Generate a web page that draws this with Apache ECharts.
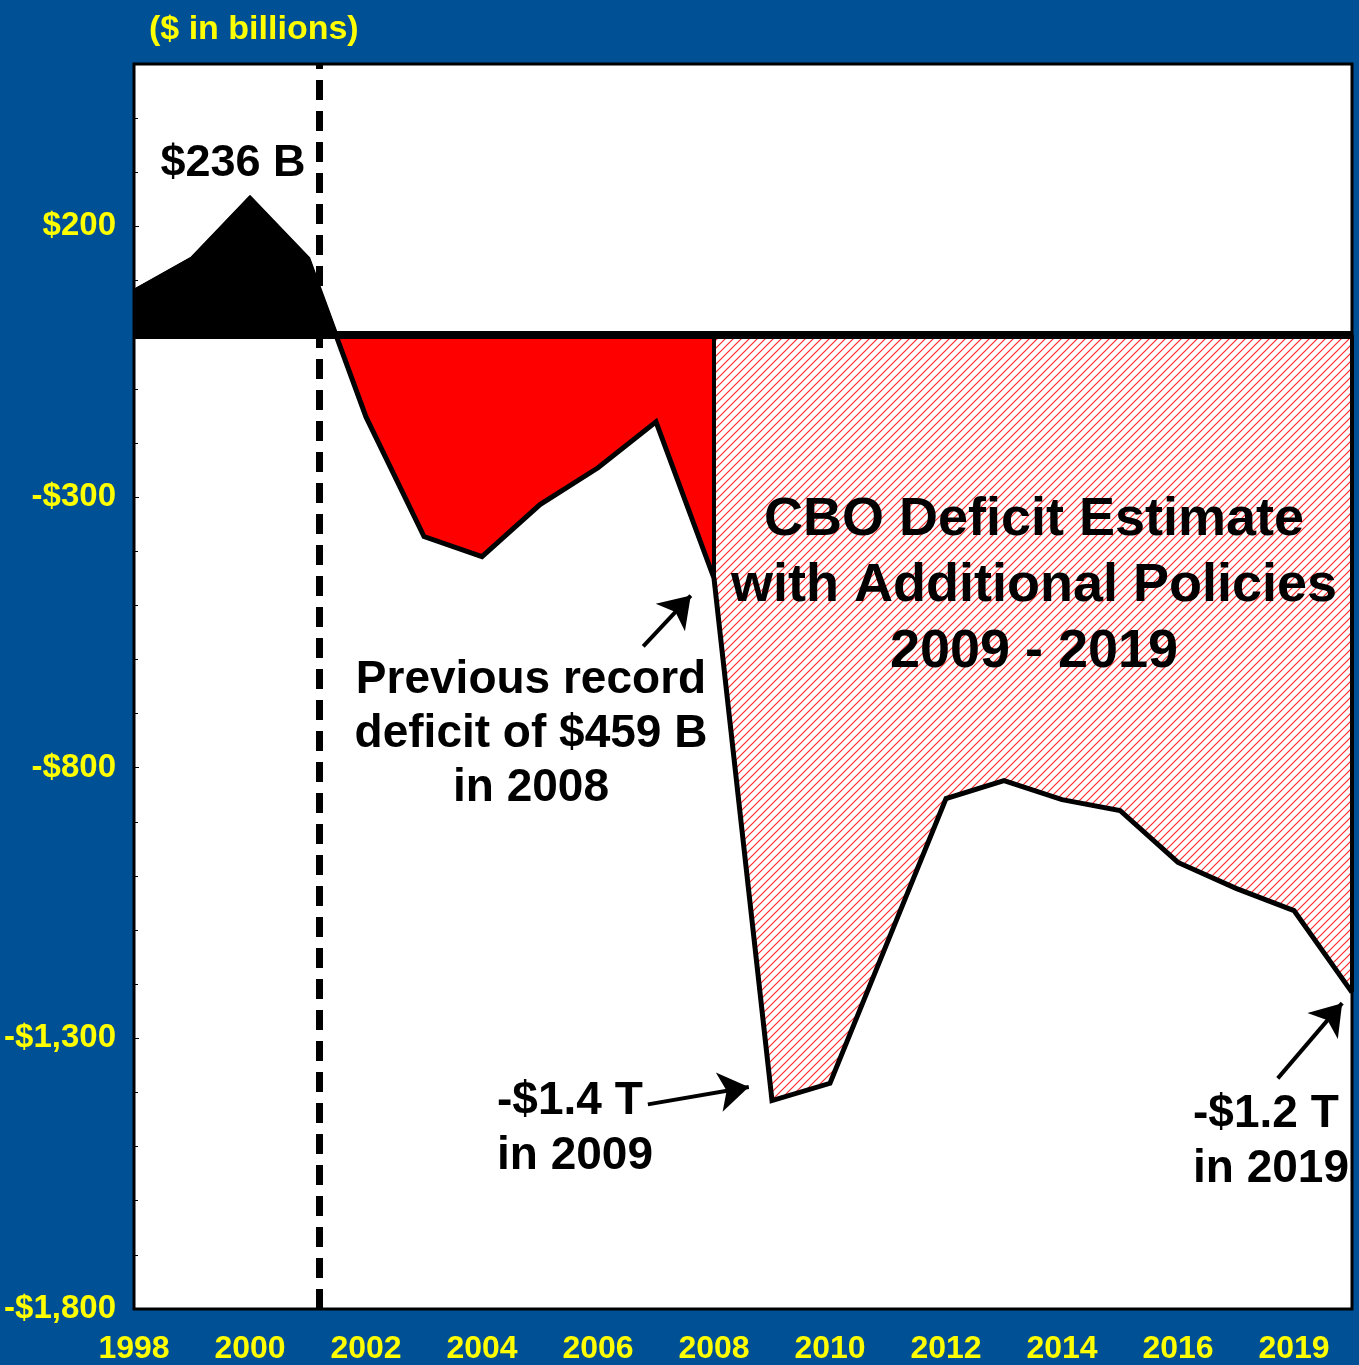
<!DOCTYPE html>
<html>
<head>
<meta charset="utf-8">
<script src="https://cdn.jsdelivr.net/npm/echarts@6/dist/echarts.min.js"></script>
<style>
  html, body { margin: 0; padding: 0; background: #005096; }
  #chart { width: 1359px; height: 1365px; }
</style>
</head>
<body>
<div id="chart"></div>
<script>
(function () {
    'use strict';

    // years on the x axis
    var years = [1998, 1999, 2000, 2001, 2002, 2003, 2004, 2005, 2006, 2007, 2008,
                 2009, 2010, 2011, 2012, 2013, 2014, 2015, 2016, 2017, 2018, 2019];
    // surplus 1998-2001 ($ billions)
    var surplus = [80, 140, 252, 140];
    // actual deficits 2002-2008
    var actualDeficit = [-152, -373, -410, -314, -246, -161, -450];
    // CBO estimate with additional policies 2009-2019
    var cboEstimate = [-1415, -1383, -1120, -857, -824, -859, -879, -975, -1023, -1064, -1215];

    var xTickYears = [1998, 2000, 2002, 2004, 2006, 2008, 2010, 2012, 2014, 2016, 2018];
    var xTickLabels = ['1998', '2000', '2002', '2004', '2006', '2008', '2010', '2012', '2014', '2016', '2019'];
    var yTicks = [-1800, -1300, -800, -300, 200];

    var balance = surplus.concat(actualDeficit, cboEstimate);
    var pts = years.map(function (y, i) { return [y, balance[i]]; });

    // where the line crosses zero between 2001 and 2002
    var i1 = surplus.length - 1;
    var a = balance[i1], b = balance[i1 + 1];
    var crossX = years[i1] + a / (a - b);

    var surplusPts = pts.slice(0, surplus.length).concat([[crossX, 0]]);
    var deficitPts = [[crossX, 0]].concat(pts.slice(surplus.length, surplus.length + actualDeficit.length));
    var cboPts = pts.slice(surplus.length + actualDeficit.length - 1);
    var last2008 = actualDeficit[actualDeficit.length - 1];
    var last2019 = cboEstimate[cboEstimate.length - 1];

    // diagonal red hatch
    function makeHatch() {
        var c = document.createElement('canvas');
        c.width = 8; c.height = 8;
        var ctx = c.getContext('2d');
        ctx.fillStyle = '#fff';
        ctx.fillRect(0, 0, 8, 8);
        ctx.strokeStyle = '#ff2a2a';
        ctx.lineWidth = 1.2;
        ctx.beginPath();
        ctx.moveTo(0, 8); ctx.lineTo(8, 0);
        ctx.moveTo(-1, 1); ctx.lineTo(1, -1);
        ctx.moveTo(7, 9); ctx.lineTo(9, 7);
        ctx.stroke();
        return c;
    }

    var FONT = '"Liberation Sans", Arial, sans-serif';
    function yellow(size) {
        return {
            color: '#ffff00', fontFamily: FONT, fontWeight: 'bold', fontSize: size,
            textShadowColor: '#000', textShadowOffsetX: 2, textShadowOffsetY: 2, textShadowBlur: 0
        };
    }

    function money(v) {
        var s = Math.abs(v).toString().replace(/\B(?=(\d{3})+(?!\d))/g, ',');
        return (v < 0 ? '-$' : '$') + s;
    }

    function note(text, x, y, size, lh, align) {
        return {
            type: 'text', z: 10,
            style: {
                text: text, x: x, y: y, align: align, verticalAlign: 'middle', lineHeight: lh,
                fontFamily: FONT, fontWeight: 'bold', fontSize: size, fill: '#000'
            }
        };
    }

    var mychart = echarts.init(document.getElementById('chart'));

    var option = {
        backgroundColor: '#005096',
        animation: false,
        grid: {
            left: 134, right: 7, top: 64, bottom: 55,
            show: true, backgroundColor: '#fff', borderColor: '#000', borderWidth: 3
        },
        xAxis: {
            type: 'value', min: 1998, max: 2019, interval: 2,
            splitLine: { show: false },
            axisLine: { show: false },
            axisTick: { show: false },
            axisLabel: Object.assign(yellow(32), {
                margin: 24,
                formatter: function (v) {
                    var k = xTickYears.indexOf(v);
                    return k >= 0 ? xTickLabels[k] : '';
                }
            })
        },
        yAxis: {
            type: 'value', min: -1800, max: 500, interval: 500,
            splitLine: { show: false },
            axisLine: { show: false },
            axisTick: { show: true, inside: true, length: 5, lineStyle: { color: '#000' } },
            minorTick: { show: true, splitNumber: 5, length: 4, lineStyle: { color: '#000' } },
            axisLabel: Object.assign(yellow(33), {
                margin: 18,
                formatter: function (v) {
                    return yTicks.indexOf(v) >= 0 ? money(v) : '';
                }
            })
        },
        title: {
            text: '($ in billions)', left: 144, top: 8,
            textStyle: yellow(34)
        },
        series: [
            {
                name: 'surplus', type: 'line', data: surplusPts, symbol: 'none', z: 2,
                lineStyle: { color: '#000', width: 4 },
                areaStyle: { color: '#000', opacity: 1 }
            },
            {
                name: 'deficit', type: 'line', data: deficitPts, symbol: 'none', z: 2,
                lineStyle: { width: 0 },
                areaStyle: { color: '#ff0000', opacity: 1 }
            },
            {
                name: 'cbo', type: 'line', data: cboPts, symbol: 'none', z: 2,
                lineStyle: { width: 0 },
                areaStyle: { color: { image: makeHatch(), repeat: 'repeat' }, opacity: 1 }
            },
            {
                name: 'balance', type: 'line', data: pts, symbol: 'none', z: 4,
                lineStyle: { color: '#000', width: 5, join: 'miter' },
                markLine: {
                    silent: true, symbol: 'none', animation: false,
                    label: { show: false },
                    data: [
                        [{ coord: [2008, 0], lineStyle: { color: '#000', width: 4, type: 'solid' } },
                         { coord: [2008, last2008] }],
                        [{ coord: [2019, 0], lineStyle: { color: '#000', width: 4, type: 'solid' } },
                         { coord: [2019, last2019] }],
                        { yAxis: 0, lineStyle: { color: '#000', width: 8, type: 'solid' } },
                        { xAxis: 2001.2, lineStyle: { color: '#000', width: 7, type: [20, 11] } }
                    ]
                }
            },
            {
                name: 'arrows', type: 'line', data: [], z: 5,
                markLine: {
                    silent: true, symbol: ['none', 'arrow'], symbolSize: 30, animation: false,
                    label: { show: false },
                    lineStyle: { color: '#000', width: 4, type: 'solid' },
                    data: [
                        [{ coord: [2006.78, -576] }, { coord: [2007.6, -482] }],
                        [{ coord: [2006.86, -1422] }, { coord: [2008.6, -1390] }],
                        [{ coord: [2017.72, -1374] }, { coord: [2018.83, -1235] }]
                    ]
                }
            }
        ],
        graphic: [
            note('$236 B', 233, 164, 45, 54, 'center'),
            note('Previous record\ndeficit of $459 B\nin 2008', 531, 734, 46, 54, 'center'),
            note('CBO Deficit Estimate\nwith Additional Policies\n2009 - 2019', 1034, 586, 54, 66, 'center'),
            note('-$1.4 T\nin 2009', 497, 1129, 46, 55, 'left'),
            note('-$1.2 T\nin 2019', 1193, 1142, 46, 55, 'left')
        ]
    };

    mychart.setOption(option);
})();
</script>
</body>
</html>
